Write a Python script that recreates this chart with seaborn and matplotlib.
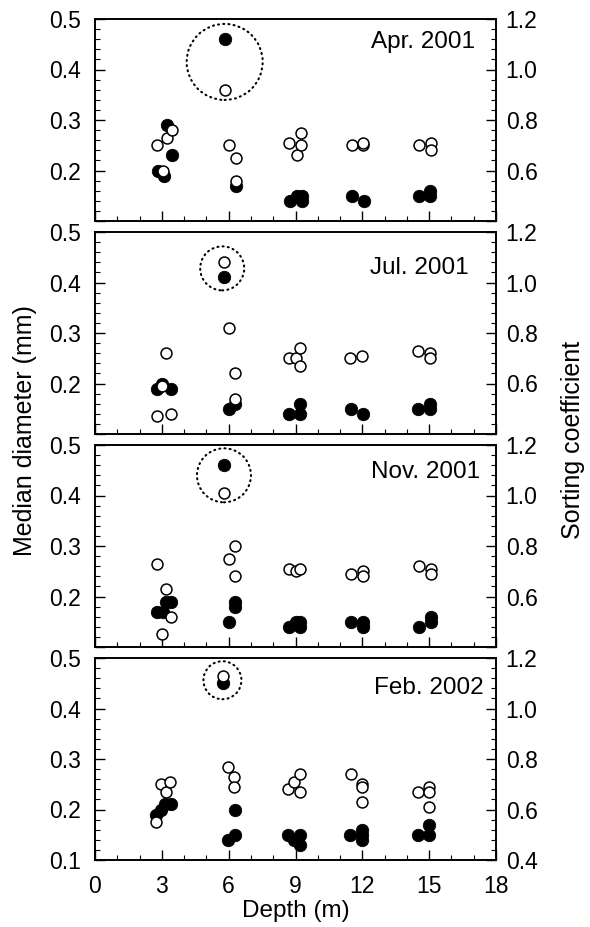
import matplotlib
matplotlib.use("Agg")
import matplotlib.pyplot as plt
from matplotlib.patches import Ellipse
from matplotlib.ticker import MultipleLocator, FixedLocator
import seaborn as sns
import pandas as pd

sns.set_style("ticks")
plt.rcParams["font.family"] = ["Liberation Sans", "DejaVu Sans"]
plt.rcParams.update({
    "text.color": "black",
    "axes.labelcolor": "black",
    "xtick.color": "black",
    "ytick.color": "black",
    "axes.edgecolor": "black",
})

# ---- Data: median diameter (mm, filled) and sorting coefficient (open) ----
months = ["Apr. 2001", "Jul. 2001", "Nov. 2001", "Feb. 2002"]

apr_md_depth = [2.85, 3.08, 3.23, 3.45, 5.82, 6.31, 8.75, 9.07, 9.28, 9.28, 11.54, 12.07, 14.54, 15.05, 15.05]
apr_md = [0.20, 0.19, 0.29, 0.23, 0.46, 0.17, 0.14, 0.15, 0.15, 0.14, 0.15, 0.14, 0.15, 0.16, 0.15]
apr_sc_depth = [2.80, 3.05, 3.23, 3.45, 5.82, 6.02, 6.31, 6.33, 8.73, 9.07, 9.25, 9.25, 11.54, 12.04, 12.04, 14.54, 15.07, 15.07]
apr_sc = [0.70, 0.60, 0.73, 0.76, 0.92, 0.70, 0.65, 0.56, 0.71, 0.66, 0.75, 0.70, 0.70, 0.70, 0.71, 0.70, 0.71, 0.68]

jul_md_depth = [2.79, 3.01, 3.42, 5.78, 6.00, 6.27, 8.72, 9.19, 9.19, 11.50, 12.02, 14.49, 15.02, 15.02]
jul_md = [0.19, 0.20, 0.19, 0.41, 0.15, 0.16, 0.14, 0.16, 0.14, 0.15, 0.14, 0.15, 0.16, 0.15]
jul_sc_depth = [2.79, 3.01, 3.20, 3.42, 5.78, 6.00, 6.27, 6.27, 8.69, 9.03, 9.21, 9.21, 11.46, 12.00, 14.50, 15.02, 15.02]
jul_sc = [0.47, 0.59, 0.72, 0.48, 1.08, 0.82, 0.64, 0.54, 0.70, 0.70, 0.74, 0.67, 0.70, 0.71, 0.73, 0.72, 0.70]

nov_md_depth = [2.80, 3.06, 3.20, 3.41, 5.79, 6.02, 6.28, 6.28, 8.69, 9.00, 9.22, 9.22, 11.48, 12.01, 12.01, 14.53, 15.06, 15.06]
nov_md = [0.17, 0.17, 0.19, 0.19, 0.46, 0.15, 0.19, 0.18, 0.14, 0.15, 0.15, 0.14, 0.15, 0.15, 0.14, 0.14, 0.16, 0.15]
nov_sc_depth = [2.79, 3.02, 3.20, 3.41, 5.79, 6.02, 6.28, 6.28, 8.69, 9.00, 9.22, 11.48, 12.01, 12.01, 14.53, 15.06, 15.06]
nov_sc = [0.73, 0.45, 0.63, 0.52, 1.01, 0.75, 0.80, 0.68, 0.71, 0.70, 0.71, 0.69, 0.70, 0.68, 0.72, 0.71, 0.69]

feb_md_depth = [2.75, 2.95, 3.15, 3.40, 5.75, 5.98, 6.29, 6.29, 8.68, 8.95, 9.19, 9.19, 11.46, 11.99, 11.99, 11.99, 14.50, 15.00, 15.00]
feb_md = [0.19, 0.20, 0.21, 0.21, 0.45, 0.14, 0.15, 0.20, 0.15, 0.14, 0.15, 0.13, 0.15, 0.16, 0.15, 0.14, 0.15, 0.17, 0.15]
feb_sc_depth = [2.75, 2.97, 3.17, 3.38, 5.75, 5.98, 6.26, 6.26, 8.65, 8.95, 9.18, 9.18, 11.48, 12.00, 12.00, 12.00, 14.48, 15.00, 15.00, 15.00]
feb_sc = [0.55, 0.70, 0.67, 0.71, 1.13, 0.77, 0.73, 0.69, 0.68, 0.71, 0.74, 0.67, 0.74, 0.70, 0.69, 0.63, 0.67, 0.69, 0.67, 0.61]

# Outlier sample at 6 m ringed by a dotted circle (depth, median-diameter units)
outlier_depth = [5.82, 5.71, 5.79, 5.72]
outlier_level = [0.415, 0.428, 0.44, 0.456]

depth_ticks = [0, 3, 6, 9, 12, 15, 18]
md_ticks = [0.1, 0.2, 0.3, 0.4, 0.5]
sc_ticks = [0.4, 0.6, 0.8, 1.0, 1.2]

panels = [
    (apr_md_depth, apr_md, apr_sc_depth, apr_sc),
    (jul_md_depth, jul_md, jul_sc_depth, jul_sc),
    (nov_md_depth, nov_md, nov_sc_depth, nov_sc),
    (feb_md_depth, feb_md, feb_sc_depth, feb_sc),
]

# ---- Layout (pixels) ----
W, H = 590, 927
left_px, right_px = 95, 496
panel_h, step = 202, 213
top0 = 19
ring_radius_px = [38, 22, 27, 19]
label_pos = [(0.948, 0.886), (0.931, 0.824), (0.960, 0.866), (0.968, 0.852)]

fig = plt.figure(figsize=(W / 100, H / 100), dpi=100)
TICK_FS = 16.5
LABEL_FS = 17.5

for i, (mdd, md, scd, sc) in enumerate(panels):
    top = top0 + i * step
    ax = fig.add_axes([left_px / W, 1 - (top + panel_h) / H,
                       (right_px - left_px) / W, panel_h / H])
    ax2 = ax.twinx()
    last = i == len(panels) - 1

    df_md = pd.DataFrame({"depth": mdd, "value": md})
    df_sc = pd.DataFrame({"depth": scd, "value": sc})

    sns.scatterplot(data=df_md, x="depth", y="value", ax=ax, color="black",
                    edgecolor="black", s=80, linewidth=0.6, zorder=3, legend=False)
    sns.scatterplot(data=df_sc, x="depth", y="value", ax=ax2, color="white",
                    edgecolor="black", s=62, linewidth=1.1, zorder=3, legend=False)

    ax.set_xlim(0, 18)
    ax.set_ylim(0.1, 0.5)
    ax2.set_ylim(0.4, 1.2)

    # dotted ring around the 6 m outlier, circular in pixel space
    r = ring_radius_px[i]
    w_data = 2 * r / ((right_px - left_px) / 18)
    h_data = 2 * r / (panel_h / 0.4)
    ring = Ellipse((outlier_depth[i], outlier_level[i]), w_data, h_data,
                   fill=False, edgecolor="black", linewidth=1.5,
                   linestyle=(0, (0.5, 2.0)), zorder=2)
    ring.set_capstyle("round")
    ax.add_patch(ring)

    # x axis
    ax.xaxis.set_major_locator(FixedLocator(depth_ticks))
    ax.xaxis.set_minor_locator(MultipleLocator(1))
    ax.tick_params(axis="x", which="major", direction="in", length=7.2, width=1.0,
                   top=False, bottom=True, labelbottom=last, labelsize=TICK_FS, pad=11)
    ax.tick_params(axis="x", which="minor", direction="in", length=3.6, width=0.8,
                   top=False, bottom=True)

    # left y axis
    ax.yaxis.set_major_locator(FixedLocator(md_ticks))
    ax.yaxis.set_minor_locator(MultipleLocator(0.02))
    ax.set_yticklabels([f"{t:.1f}" if (last or t > 0.1) else "" for t in md_ticks])
    ax.tick_params(axis="y", which="major", direction="in", length=7.2, width=1.0,
                   left=True, right=False, labelsize=TICK_FS, pad=10)
    ax.tick_params(axis="y", which="minor", direction="in", length=3.6, width=0.8,
                   left=True, right=False)

    # right y axis
    ax2.yaxis.set_major_locator(FixedLocator(sc_ticks))
    ax2.yaxis.set_minor_locator(MultipleLocator(0.04))
    ax2.set_yticklabels([f"{t:.1f}" if (last or t > 0.4) else "" for t in sc_ticks])
    ax2.tick_params(axis="y", which="major", direction="in", length=7.2, width=1.0,
                    left=False, right=True, labelsize=TICK_FS, pad=7)
    ax2.tick_params(axis="y", which="minor", direction="in", length=3.6, width=0.8,
                    left=False, right=True)

    ax.set_xlabel("")
    ax.set_ylabel("")
    ax2.set_ylabel("")
    for a in (ax, ax2):
        for sp in a.spines.values():
            sp.set_linewidth(1.2)
            sp.set_color("black")

    ax.text(label_pos[i][0], label_pos[i][1], months[i], transform=ax.transAxes,
            ha="right", va="center", fontsize=LABEL_FS, zorder=5)

    if last:
        ax.set_xlabel("Depth (m)", fontsize=LABEL_FS, labelpad=1)

fig.text(25 / W, 1 - 431 / H, "Median diameter (mm)", rotation=90,
         ha="center", va="center", fontsize=18)
fig.text(573 / W, 1 - 440 / H, "Sorting coefficient", rotation=90,
         ha="center", va="center", fontsize=18)

fig.savefig("out.png", dpi=100, facecolor="white")
